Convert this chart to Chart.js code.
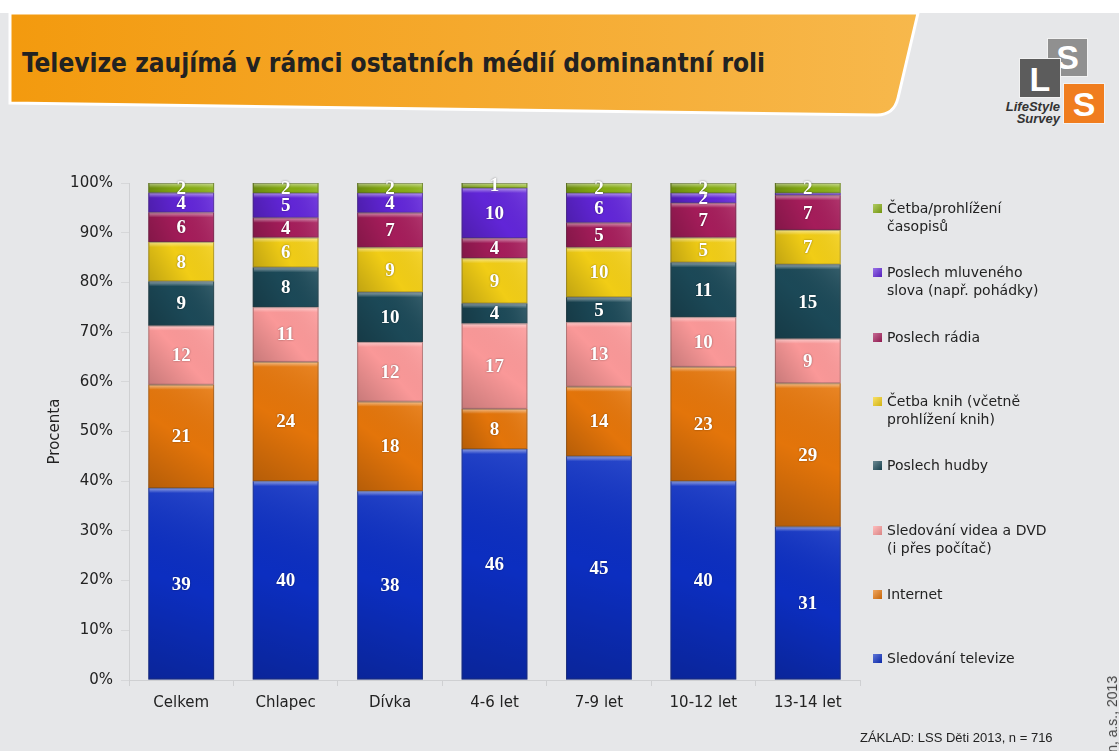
<!DOCTYPE html>
<html lang="cs">
<head>
<meta charset="utf-8">
<title>Televize zaujímá v rámci ostatních médií dominantní roli</title>
<script src="https://cdn.jsdelivr.net/npm/chart.js@4.4.0/dist/chart.umd.min.js"></script>
<style>
  body { margin: 0; }
  #page { position: relative; width: 1119px; height: 751px; overflow: hidden; background: #e6e7e9; font-family: 'DejaVu Sans', sans-serif; }
  #topStrip { position: absolute; left: 0; top: 0; width: 1119px; height: 13px; background: #fff; }
  #banner { position: absolute; left: 0; top: 0; }
  #title { position: absolute; left: 22px; top: 48px; font: bold 26px 'Liberation Sans Narrow', 'DejaVu Sans Condensed', sans-serif; color: #222; white-space: nowrap; }
  .sq { position: absolute; color: #fff; font: bold 34px 'Liberation Sans', sans-serif; text-align: center; border: 1px solid #f2f2f2; }
  .logoText { position: absolute; font: italic bold 13px 'Liberation Sans', sans-serif; color: #333; text-align: right; line-height: 12px; }
  #chartBox { position: absolute; left: 0; top: 0; width: 1119px; height: 751px; }
  .legItem { position: absolute; left: 873px; font-size: 14px; line-height: 18px; color: #222; white-space: pre; }
  .legItem span.box { position: absolute; left: 0; top: 5px; width: 9px; height: 9px; }
  .legItem span.txt { position: absolute; left: 14px; top: 0; }
  #footer { position: absolute; left: 860px; top: 730px; font: 13px 'Liberation Sans', sans-serif; color: #222; white-space: nowrap; }
  #copy { position: absolute; left: 1104px; top: 676px; font: 14px 'Liberation Sans', sans-serif; color: #444; white-space: nowrap; writing-mode: vertical-rl; transform: rotate(180deg); }
</style>
</head>
<body>
<div id="page">
  <div id="topStrip"></div>
  <svg id="banner" width="1119" height="130">
    <defs>
      <linearGradient id="bannerGrad" x1="0" y1="0" x2="1" y2="0">
        <stop offset="0" stop-color="#f39a0e"/>
        <stop offset="1" stop-color="#f7b84c"/>
      </linearGradient>
    </defs>
    <path d="M10,13 L918,13 L898,98 Q894,115 877,115 L10,103 Z" fill="url(#bannerGrad)" stroke="#ffffff" stroke-width="3"/>
  </svg>
  <div id="title">Televize zaujímá v rámci ostatních médií dominantní roli</div>

  <!-- logo -->
  <div class="sq" style="left:1047px;top:38px;width:39px;height:37px;line-height:37px;background:#909090;">S</div>
  <div class="sq" style="left:1019px;top:58px;width:40px;height:38px;line-height:40px;background:#5c5c5c;">L</div>
  <div class="sq" style="left:1063px;top:83px;width:40px;height:39px;line-height:40px;background:#f07d1e;">S</div>
  <div class="logoText" style="left:978px;top:101px;width:82px;">LifeStyle<br>Survey</div>

  <div id="chartBox"><canvas id="myChart"></canvas></div>
  <div id="legend"></div>
  <div id="footer">ZÁKLAD: LSS Děti 2013, n = 716</div>
  <div id="copy">Median, a.s., 2013</div>
</div>

<script>
// Data
let categories = ['Celkem', 'Chlapec', 'Dívka', '4-6 let', '7-9 let', '10-12 let', '13-14 let'];

// series from bottom of the stack to the top
let tvValues = [39, 40, 38, 46, 45, 40, 31];
let internetValues = [21, 24, 18, 8, 14, 23, 29];
let videoValues = [12, 11, 12, 17, 13, 10, 9];
let musicValues = [9, 8, 10, 4, 5, 11, 15];
let booksValues = [8, 6, 9, 9, 10, 5, 7];
let radioValues = [6, 4, 7, 4, 5, 7, 7];
let spokenValues = [4, 5, 4, 10, 6, 2, 0.5];
let magazineValues = [2, 2, 2, 1, 2, 2, 2];

let seriesNames = [
  'Sledování televize',
  'Internet',
  'Sledování videa a DVD\n(i přes počítač)',
  'Poslech hudby',
  'Četba knih (včetně\nprohlížení knih)',
  'Poslech rádia',
  'Poslech mluveného\nslova (např. pohádky)',
  'Četba/prohlížení\nčasopisů'
];
let seriesValues = [tvValues, internetValues, videoValues, musicValues, booksValues, radioValues, spokenValues, magazineValues];
let seriesColors = ['#0c2fc4', '#e8770a', '#ff9b9b', '#1c4a59', '#f6d116', '#a81d5c', '#6326dc', '#88b012'];

let yTicks = [0, 10, 20, 30, 40, 50, 60, 70, 80, 90, 100];

// totals per column so every bar is 100 %
let totals = categories.map((c, i) => {
  let sum = 0;
  for (let s = 0; s < seriesValues.length; s++) {
    sum += seriesValues[s][i];
  }
  return sum;
});

let datasets = [];
for (let s = 0; s < seriesValues.length; s++) {
  datasets.push({
    label: seriesNames[s].replace('\n', ' '),
    data: seriesValues[s].map((v, i) => v / totals[i] * 100),
    rawValues: seriesValues[s],
    backgroundColor: seriesColors[s],
    borderWidth: 0,
    barPercentage: 0.63,
    categoryPercentage: 1
  });
}

// legend, top entry = last series
function renderLegend() {
  let legend = document.getElementById('legend');
  for (let k = 0; k < seriesNames.length; k++) {
    let s = seriesNames.length - 1 - k;
    let item = document.createElement('div');
    item.className = 'legItem';
    item.style.top = (199 + k * 64.3) + 'px';
    let box = document.createElement('span');
    box.className = 'box';
    box.style.background = 'linear-gradient(135deg, rgba(255,255,255,0.35), rgba(0,0,0,0.15)), ' + seriesColors[s];
    let txt = document.createElement('span');
    txt.className = 'txt';
    txt.textContent = seriesNames[s];
    item.appendChild(box);
    item.appendChild(txt);
    legend.appendChild(item);
  }
}

// gloss on the bars and the white value labels
const barDecor = {
  id: 'barDecor',
  afterDatasetsDraw(chart) {
    let ctx = chart.ctx;
    ctx.save();
    chart.data.datasets.forEach((ds, di) => {
      chart.getDatasetMeta(di).data.forEach((bar) => {
        let left = bar.x - bar.width / 2;
        let top = Math.min(bar.y, bar.base);
        let h = Math.abs(bar.base - bar.y);
        if (h < 0.5) return;
        let g = ctx.createLinearGradient(left, top + h, left + bar.width, top);
        g.addColorStop(0, 'rgba(0,0,0,0.22)');
        g.addColorStop(0.5, 'rgba(0,0,0,0.02)');
        g.addColorStop(1, 'rgba(255,255,255,0.12)');
        ctx.fillStyle = g;
        ctx.fillRect(left, top, bar.width, h);
        let hl = ctx.createLinearGradient(0, top, 0, top + Math.min(5, h));
        hl.addColorStop(0, 'rgba(255,255,255,0.5)');
        hl.addColorStop(1, 'rgba(255,255,255,0)');
        ctx.fillStyle = hl;
        ctx.fillRect(left + 1, top, bar.width - 2, Math.min(5, h));
        ctx.strokeStyle = 'rgba(60,60,60,0.35)';
        ctx.lineWidth = 1;
        ctx.strokeRect(left + 0.5, top + 0.5, bar.width - 1, h - 1);
      });
    });
    ctx.font = 'bold 19px "Liberation Serif", serif';
    ctx.textAlign = 'center';
    ctx.textBaseline = 'middle';
    ctx.fillStyle = '#ffffff';
    ctx.shadowColor = 'rgba(0,0,0,0.45)';
    ctx.shadowBlur = 2;
    chart.data.datasets.forEach((ds, di) => {
      chart.getDatasetMeta(di).data.forEach((bar, i) => {
        let v = ds.rawValues[i];
        if (v < 1) return;
        ctx.fillText(String(v), bar.x, (bar.y + bar.base) / 2 + 1);
      });
    });
    ctx.restore();
  }
};

let ctx = document.getElementById('myChart').getContext('2d');
let myChart = new Chart(ctx, {
  type: 'bar',
  data: {
    labels: categories,
    datasets: datasets
  },
  options: {
    responsive: true,
    maintainAspectRatio: false,
    animation: false,
    layout: {
      padding: { left: 40, top: 183, right: 259, bottom: 31 }
    },
    plugins: {
      legend: { display: false },
      tooltip: { enabled: false }
    },
    scales: {
      x: {
        stacked: true,
        afterFit: (scale) => { scale.height = 40; },
        grid: { drawOnChartArea: false, tickLength: 6, color: '#cfd0d2' },
        border: { color: '#cfd0d2' },
        ticks: { color: '#222', padding: 8, font: { family: 'DejaVu Sans', size: 15 } }
      },
      y: {
        stacked: true,
        min: 0,
        max: 100,
        afterFit: (scale) => { scale.width = 89; },
        afterBuildTicks: (scale) => { scale.ticks = yTicks.map(v => ({ value: v })); },
        grid: { drawOnChartArea: false, tickLength: 8, color: '#d6d7d9' },
        border: { color: '#cfd0d2' },
        title: { display: true, text: 'Procenta', color: '#222', padding: { top: 6, bottom: 0 }, font: { family: 'DejaVu Sans', size: 15 } },
        ticks: { color: '#222', padding: 8, font: { family: 'DejaVu Sans', size: 15 }, callback: (v) => v + '%' }
      }
    }
  },
  plugins: [barDecor]
});

renderLegend();
</script>
</body>
</html>
